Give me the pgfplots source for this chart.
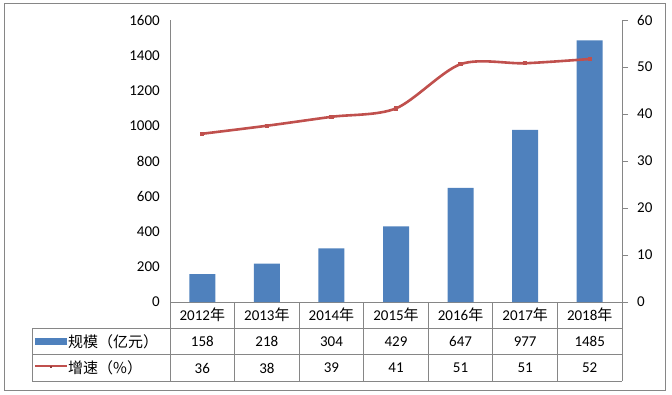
\documentclass[border=0pt]{standalone}
\usepackage{fontspec}
\setmainfont{Carlito}
\newfontfamily\cjk{Noto Sans CJK SC}
\usepackage{pgfplots}
\pgfplotsset{compat=1.18}
\definecolor{barblue}{HTML}{4F81BD}
\definecolor{linered}{HTML}{C0504D}
\definecolor{framegray}{HTML}{868686}
\begin{document}
\fontsize{15}{17}\selectfont
\begin{tikzpicture}[x=1pt,y=1pt]
\path (0,0) rectangle (672,394);
\draw[framegray, line width=0.8pt] (4,3.5) rectangle (665,391);
\begin{axis}[
  at={(170pt,92pt)}, anchor=south west, scale only axis,
  width=452pt, height=282pt,
  xmin=-0.5, xmax=6.5, ymin=0, ymax=1600,
  ytick={0,200,...,1600}, xtick=\empty,
  axis y line*=left, axis x line*=bottom,
  axis line style={framegray, line width=0.8pt},
  major tick length=0pt,
  yticklabel style={xshift=-5pt},
  /pgf/number format/assume math mode=true,
  /pgf/number format/1000 sep={},
  ybar, bar width=26pt,
]
\addplot[fill=barblue, draw=none] coordinates {
  (0,158) (1,218) (2,304) (3,429) (4,647) (5,977) (6,1485)};
\end{axis}
\begin{axis}[
  at={(170pt,92pt)}, anchor=south west, scale only axis,
  width=452pt, height=282pt,
  xmin=-0.5, xmax=6.5, ymin=0, ymax=60,
  ytick={0,10,...,60}, xtick=\empty,
  axis y line*=right, axis x line=none,
  axis line style={framegray, line width=0.8pt},
  tick style={framegray, line width=0.8pt},
  tick align=outside, major tick length=6pt,
  yticklabel style={xshift=4pt},
  /pgf/number format/assume math mode=true,
]
\addplot[linered, line width=2.6pt, smooth, mark=square*, mark size=0.9pt,
  mark options={fill=linered!75!black, draw=none}] coordinates {
  (0,35.8) (1,37.5) (2,39.4) (3,41.2) (4,50.6) (5,50.8) (6,51.7)};
\end{axis}
% data table
\begin{scope}[framegray, line width=0.8pt]
  \draw (32,66) -- (622,66);
  \draw (32,39.5) -- (622,39.5);
  \draw (32,13) -- (622,13);
  \draw (32,66) -- (32,13);
  \foreach \k in {0,...,7} {
    \draw ({170+64.571*\k},92) -- ({170+64.571*\k},13);
  }
\end{scope}
\foreach \c/\k in {2012/0,2013/1,2014/2,2015/3,2016/4,2017/5,2018/6} {
  \node at ({202.3+64.571*\k},79) {\c{\cjk 年}};
}
\foreach \v/\k in {158/0,218/1,304/2,429/3,647/4,977/5,1485/6} {
  \node at ({202.3+64.571*\k},52.5) {\v};
}
\foreach \v/\k in {36/0,38/1,39/2,41/3,51/4,51/5,52/6} {
  \node at ({202.3+64.571*\k},26) {\v};
}
\fill[barblue] (35,49.5) rectangle (67,56.5);
\node[anchor=west, inner sep=0pt] at (68,52.5) {\cjk 规模（亿元）};
\draw[linered, line width=2.6pt] (35,28) -- (67,28);
\fill[linered!75!black] (50,25.8) rectangle (52,28);
\node[anchor=west, inner sep=0pt] at (68,26) {\cjk 增速（\%）};
\end{tikzpicture}
\end{document}
